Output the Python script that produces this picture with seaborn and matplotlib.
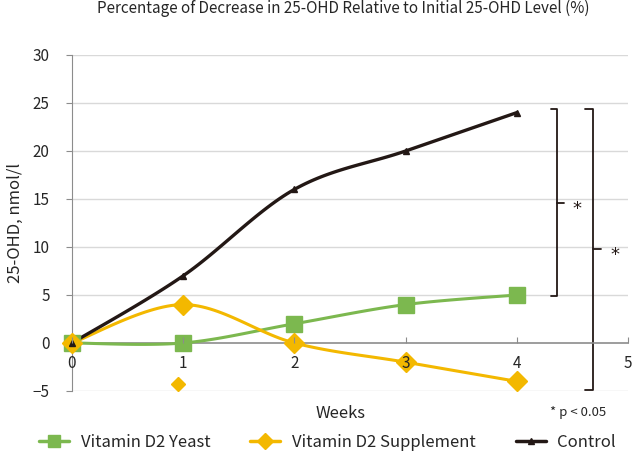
import numpy as np
import pandas as pd
import matplotlib
matplotlib.use("Agg")
import matplotlib.pyplot as plt
import seaborn as sns
from matplotlib.lines import Line2D

# data
weeks = [0, 1, 2, 3, 4]
yeast = [0, 0, 2, 4, 5]
supplement = [0, 4, 0, -2, -4]
control = [0, 7, 16, 20, 24]
stray_point = (0.95, -4.3)  # lone diamond below week 1

series_names = ["Vitamin D2 Yeast", "Vitamin D2 Supplement", "Control"]
colors = {"Vitamin D2 Yeast": "#7cb84f",
          "Vitamin D2 Supplement": "#f3b800",
          "Control": "#231815"}
markers = {"Vitamin D2 Yeast": "s", "Vitamin D2 Supplement": "D", "Control": "^"}
msizes = {"Vitamin D2 Yeast": 11.5, "Vitamin D2 Supplement": 10, "Control": 5}


def smooth(xs, ys, n=30):
    """Excel-style smoothed line (Catmull-Rom Bezier)"""
    xs = np.asarray(xs, float)
    ys = np.asarray(ys, float)
    pts = np.column_stack([xs, ys])
    out = []
    for i in range(len(pts) - 1):
        p0 = pts[max(i - 1, 0)]
        p1 = pts[i]
        p2 = pts[i + 1]
        p3 = pts[min(i + 2, len(pts) - 1)]
        c1 = p1 + (p2 - p0) / 6
        c2 = p2 - (p3 - p1) / 6
        t = np.linspace(0, 1, n)[:, None]
        seg = ((1 - t) ** 3) * p1 + 3 * ((1 - t) ** 2) * t * c1 + 3 * (1 - t) * t ** 2 * c2 + t ** 3 * p2
        out.append(seg if i == 0 else seg[1:])
    out = np.vstack(out)
    return out[:, 0], out[:, 1]


df = pd.DataFrame({
    "week": weeks * 3,
    "value": yeast + supplement + control,
    "series": sum([[s] * len(weeks) for s in series_names], []),
})

sns.set_style("white")
plt.rcParams["font.family"] = ["Noto Sans CJK JP", "DejaVu Sans"]

fig = plt.figure(figsize=(6.37, 4.66), dpi=100)
ax = fig.add_axes([0.113, 0.161, 0.873, 0.721])

ax.set_xlim(0, 5)
ax.set_ylim(-5, 30)
ax.set_yticks(range(-5, 31, 5))
ax.set_xticks(range(0, 6))

for y in range(-5, 31, 5):
    if y != 0:
        ax.axhline(y, color="#d9d9d9", lw=1, zorder=0)

for name in series_names:
    sub = df[df["series"] == name]
    sx, sy = smooth(sub["week"], sub["value"])
    lw = 2.2 if name != "Control" else 2.4
    sns.lineplot(x=sx, y=sy, ax=ax, color=colors[name], lw=lw, sort=False,
                 estimator=None, zorder=3, clip_on=False)
    ax.plot(sub["week"], sub["value"], ls="none", marker=markers[name],
            ms=msizes[name], color=colors[name], mec=colors[name], zorder=4,
            clip_on=False)

ax.plot([stray_point[0]], [stray_point[1]], ls="none", marker="D", ms=7,
        color=colors["Vitamin D2 Supplement"], zorder=4, clip_on=False)

# axes styling
for s in ["top", "right"]:
    ax.spines[s].set_visible(False)
ax.spines["left"].set_color("#8c8c8c")
ax.spines["bottom"].set_position(("data", 0))
ax.spines["bottom"].set_color("#8c8c8c")
ax.spines["bottom"].set_linewidth(1.2)
ax.tick_params(axis="y", length=4, color="#8c8c8c", labelsize=11, pad=12, left=True)
ax.tick_params(axis="x", direction="in", length=4, color="#8c8c8c", labelsize=11, pad=9, bottom=True)
ax.xaxis.set_zorder(6)  # tick labels sit on top of the markers
ax.set_ylabel("25-OHD, nmol/l", fontsize=12, labelpad=6)
ax.set_xlabel("")

# significance brackets
def bracket(x, y0, y1, hook, tick, ystar, xstar):
    ax.plot([x - hook, x, x, x - hook], [y1, y1, y0, y0], color="#231815", lw=1.3, clip_on=False)
    ax.plot([x, x + tick], [ystar, ystar], color="#231815", lw=1.3, clip_on=False)
    ax.text(xstar, ystar - 0.6, "*", fontsize=13, ha="center", va="center", family="DejaVu Sans",
            color="#231815")

bracket(4.36, 4.9, 24.4, 0.05, 0.06, 14.6, 4.54)
bracket(4.685, -4.9, 24.4, 0.07, 0.07, 9.8, 4.88)

fig.text(0.535, 0.113, "Weeks", fontsize=12, ha="center", va="center")
fig.text(0.908, 0.115, "* p < 0.05", fontsize=9.5, ha="center", va="center")
fig.text(0.539, 0.983, "Percentage of Decrease in 25-OHD Relative to Initial 25-OHD Level (%)",
         fontsize=11, ha="center", va="center")

handles = [Line2D([], [], color=colors[n], lw=2.5, marker=markers[n],
                  ms=msizes[n] * 0.8 if n != "Control" else 5) for n in series_names]
fig.legend(handles, series_names, loc="center", bbox_to_anchor=(0.514, 0.05), ncol=3,
           frameon=False, fontsize=12, handlelength=1.8, columnspacing=2.4, handletextpad=0.7)

fig.savefig("out.png", dpi=100)
